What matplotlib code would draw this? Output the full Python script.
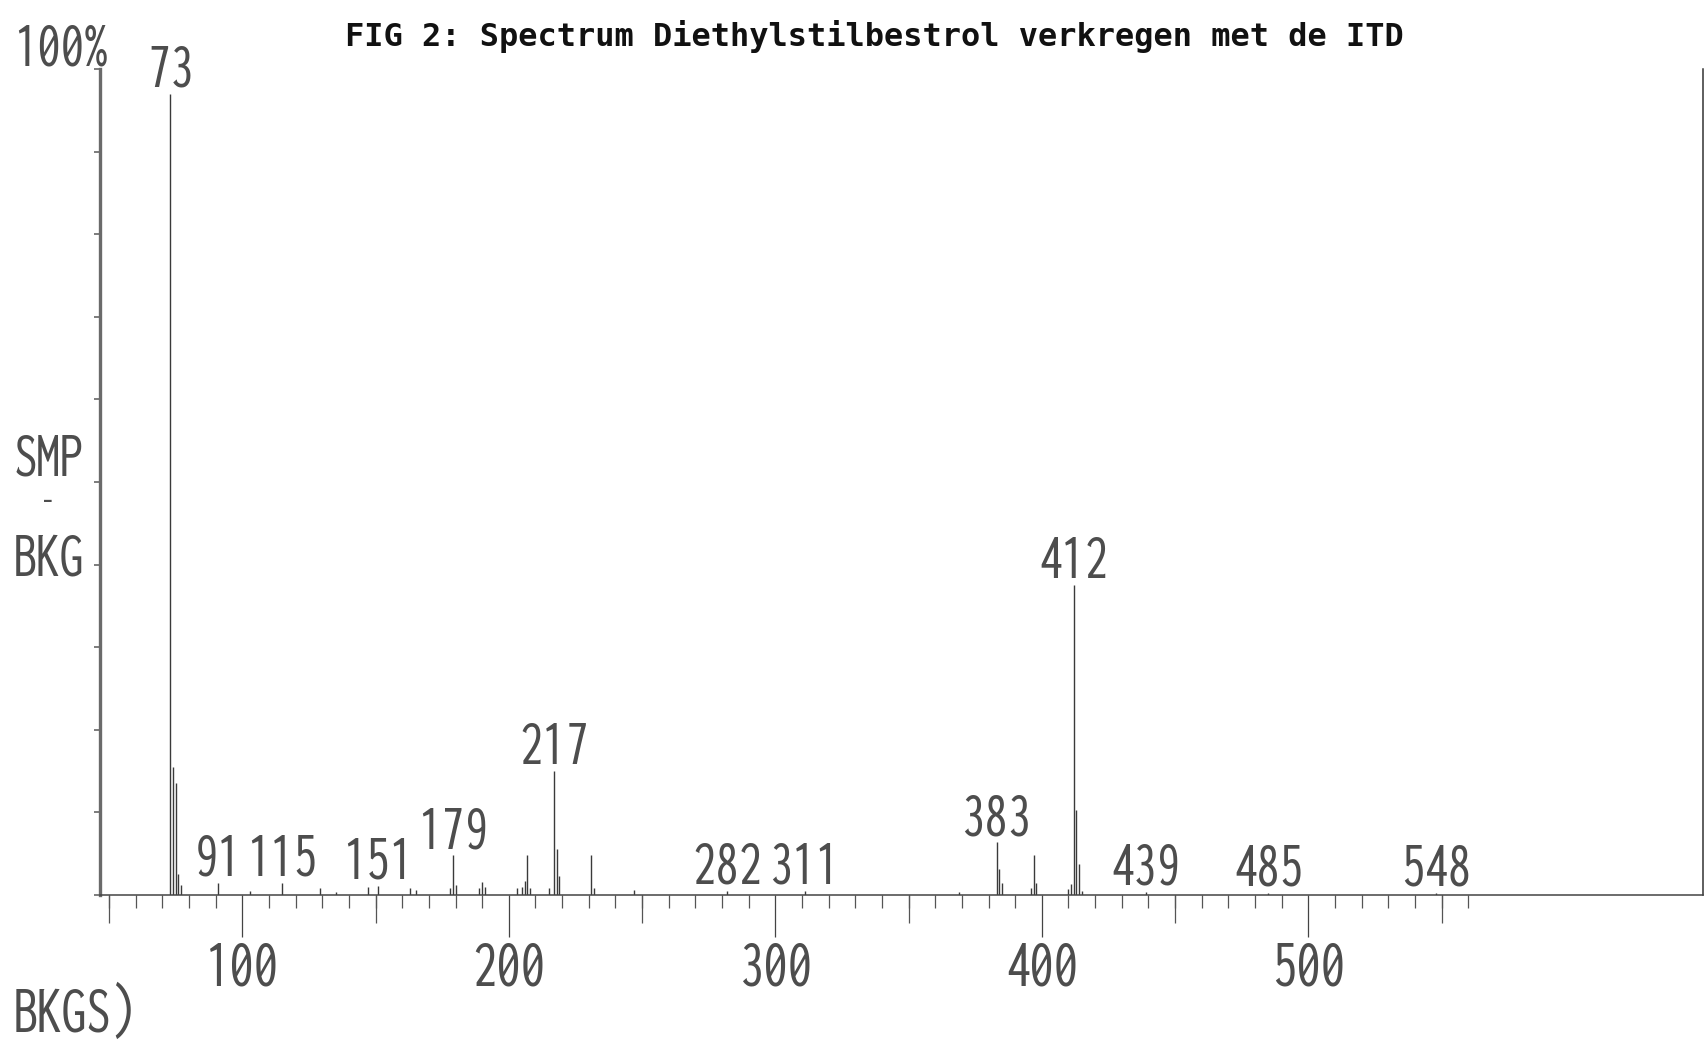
import matplotlib
matplotlib.use("Agg")
import matplotlib.pyplot as plt
from matplotlib import font_manager
from matplotlib.font_manager import FontProperties
from matplotlib.ticker import MultipleLocator, FixedLocator, NullFormatter

# massa / lading en relatieve intensiteit (SMP - BKG)
mz = [73, 74, 75, 76, 77, 91, 103, 115, 129, 135, 147, 151, 163, 165,
      178, 179, 180, 189, 190, 191, 203, 205, 206, 207, 208, 215, 217,
      218, 219, 231, 232, 247, 282, 311, 369, 383, 384, 385, 396, 397,
      398, 410, 411, 412, 413, 414, 415, 439, 485, 548]
intensiteit = [97.0, 15.5, 13.5, 2.5, 1.2, 1.5, 0.5, 1.5, 0.8, 0.4, 1.0,
               1.1, 0.8, 0.6, 0.8, 4.8, 1.2, 0.8, 1.6, 1.0, 0.8, 1.0, 1.7,
               4.8, 0.8, 0.9, 15.0, 5.6, 2.3, 4.8, 0.8, 0.6, 0.5, 0.5, 0.4,
               6.4, 3.2, 1.5, 0.8, 4.8, 1.5, 0.7, 1.3, 37.5, 10.3, 3.8,
               0.5, 0.4, 0.3, 0.3]

# pieken die een label krijgen
gelabeld = [73, 91, 115, 151, 179, 217, 282, 311, 383, 412, 439, 485, 548]

x_tick_labels = [100, 200, 300, 400, 500]
x_halve = [50, 150, 250, 350, 450, 550]
x_fijn = list(range(50, 561, 10))

titel = "FIG 2: Spectrum Diethylstilbestrol verkregen met de ITD"

# zoek een smal (condensed / narrow) lettertype, smalste eerst
voorkeur = [("ExtraCondensed.", 1.0), ("ExtraCondensed-Regular", 1.0),
            ("LiberationSansNarrow-Regular", 0.8),
            ("DejaVuSansCondensed.", 0.7), ("Condensed", 0.7)]
verboden = ["Bold", "Italic", "Oblique", "Light", "Thin", "Black", "Medium"]
pad_smal, factor = None, 0.6
bestanden = [f.fname for f in font_manager.fontManager.ttflist]
for sleutel, fac in voorkeur:
    for fn in bestanden:
        naam = fn.split("/")[-1]
        if sleutel in naam and not any(v in naam for v in verboden):
            pad_smal, factor = fn, fac
            break
    if pad_smal:
        break


def font(pt):
    if pad_smal:
        return FontProperties(fname=pad_smal, size=pt)
    return FontProperties(family="DejaVu Sans", size=pt)


fp_label = font(48 * factor)   # labels boven de pieken
fp_as = font(50 * factor)      # getallen onder de x-as
fp_y = font(48 * factor)       # tekst links van de y-as
fp_streep = font(28 * factor)  # het streepje tussen SMP en BKG
grijs = "#4d4d4d"

W, H = 1705, 1045
fig = plt.figure(figsize=(W / 100, H / 100), dpi=100)
fig.patch.set_facecolor("white")

# assen in pixels: links x=100, onder y=895, boven y=69, rechts x=1703
ax = fig.add_axes([100 / W, (H - 895) / H, (1703 - 100) / W, (895 - 69) / H])
ax.set_xlim(46.6, 648.1)
ax.set_ylim(0, 100)

ax.vlines(mz, 0, intensiteit, color="#3a3a3a", linewidth=1.0)

for m, i in zip(mz, intensiteit):
    if m in gelabeld:
        ax.annotate(str(m), xy=(m, i), xytext=(0, 5), textcoords="offset points",
                    ha="center", va="baseline", fontproperties=fp_label,
                    color=grijs)

# spines
ax.spines["top"].set_visible(False)
ax.spines["left"].set_color("#6a6a6a")
ax.spines["left"].set_linewidth(2.4)
ax.spines["bottom"].set_color("#444444")
ax.spines["bottom"].set_linewidth(1.1)
ax.spines["right"].set_color("#333333")
ax.spines["right"].set_linewidth(1.1)

# x-as: honderdtallen lang met label, tientallen kort
ax.xaxis.set_major_locator(FixedLocator(x_tick_labels))
ax.xaxis.set_minor_locator(FixedLocator(x_fijn))
ax.tick_params(axis="x", which="major", length=30, width=0.9, color="#444444",
               pad=2, labelcolor=grijs)
ax.tick_params(axis="x", which="minor", length=9, width=0.9, color="#555555")
for lbl in ax.get_xticklabels():
    lbl.set_fontproperties(fp_as)

# vijftigtallen middellang
sec = ax.secondary_xaxis("bottom")
sec.xaxis.set_major_locator(FixedLocator(x_halve))
sec.xaxis.set_major_formatter(NullFormatter())
sec.tick_params(length=20, width=0.9, color="#555555")
sec.spines["bottom"].set_visible(False)

# y-as: kleine streepjes per 10%
ax.yaxis.set_major_locator(MultipleLocator(10))
ax.yaxis.set_major_formatter(NullFormatter())
ax.tick_params(axis="y", which="major", length=4, width=1.2, color="#666666")

# teksten
fig.text(874 / W, 1 - 46 / H, titel, ha="center", va="baseline",
         family="DejaVu Sans Mono", fontweight="bold", fontsize=23,
         color="#111111")
fig.text(14 / W, 1 - 66 / H, "100%", ha="left", va="baseline",
         fontproperties=fp_y, color=grijs)
fig.text(14 / W, 1 - 475 / H, "SMP", ha="left", va="baseline",
         fontproperties=fp_y, color=grijs)
fig.text(48 / W, 1 - 503 / H, "-", ha="center", va="center",
         fontproperties=fp_streep, color=grijs)
fig.text(14 / W, 1 - 576 / H, "BKG", ha="left", va="baseline",
         fontproperties=fp_y, color=grijs)
fig.text(14 / W, 1 - 1032 / H, "BKGS)", ha="left", va="baseline",
         fontproperties=fp_as, color=grijs)

fig.savefig("out.png", dpi=100, facecolor="white")
